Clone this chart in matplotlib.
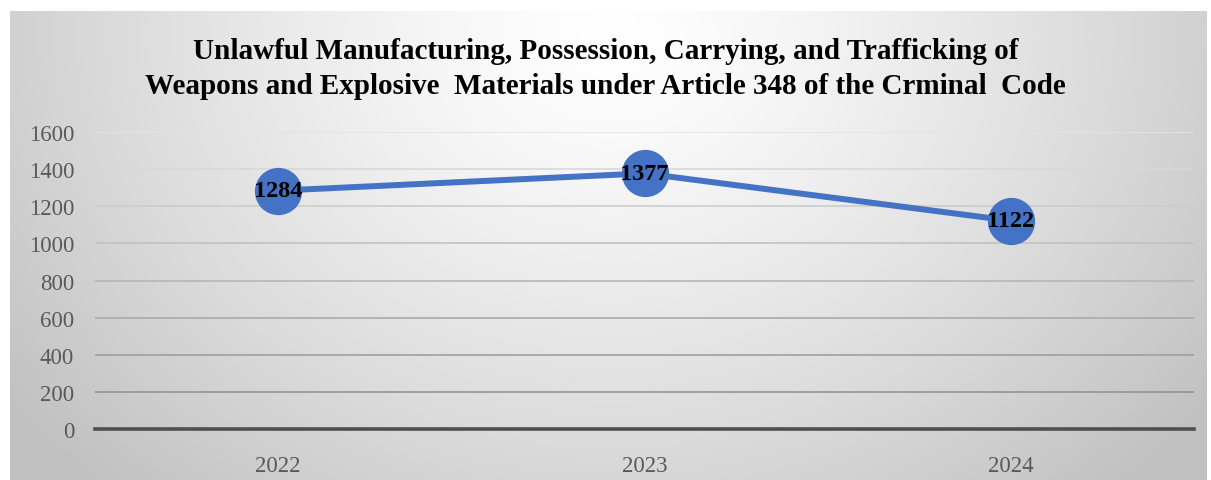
import numpy as np
import matplotlib.pyplot as plt

years = ["2022", "2023", "2024"]
values = [1284, 1377, 1122]
yticks = [0, 200, 400, 600, 800, 1000, 1200, 1400, 1600]
title = ("Unlawful Manufacturing, Possession, Carrying, and Trafficking of\n"
         "Weapons and Explosive  Materials under Article 348 of the Crminal  Code")

W, H = 1211, 481
fig = plt.figure(figsize=(W / 100, H / 100), dpi=100)
fig.patch.set_facecolor("white")

# background panel with radial gradient
bx0, by0, bx1, by1 = 10, 12, 1207, 481
bg = fig.add_axes([bx0 / W, 1 - by1 / H, (bx1 - bx0) / W, (by1 - by0) / H])
bg.set_axis_off()
ny, nx = 200, 500
yy, xx = np.mgrid[0:ny, 0:nx]
cx, cy = nx * 0.5, ny * 0.05
d = np.sqrt(((xx - cx) / (nx * 0.62)) ** 2 + ((yy - cy) / (ny * 1.3)) ** 2)
d = np.clip(d, 0, 1)
val = 1.0 - 0.24 * d ** 1.3
img = np.dstack([val, val, val])
bg.imshow(img, aspect="auto", extent=[0, 1, 0, 1], interpolation="bicubic")
bg.set_xlim(0, 1)
bg.set_ylim(0, 1)

# plot axes
px0, px1 = 95, 1194
py_top, py_bot = 133, 430
ax = fig.add_axes([px0 / W, 1 - py_bot / H, (px1 - px0) / W, (py_bot - py_top) / H])
ax.set_facecolor("none")
x = np.arange(len(years))
ax.set_xlim(-0.5, len(years) - 0.5)
ax.set_ylim(0, 1600)
ax.set_yticks(yticks)
ax.set_xticks(x)
ax.set_xticklabels(years)
for s in ax.spines.values():
    s.set_visible(False)
grid_n = len(yticks) - 1
for i, t in enumerate(yticks[1:]):
    frac = i / (grid_n - 1)  # 0 at bottom gridline, 1 at top
    g = 0.58 + (0.89 - 0.58) * frac
    ax.axhline(t, color=(g, g, g), lw=1.2, zorder=1)
ax.axhline(0, color="#4f4f4f", lw=2.6, zorder=2, clip_on=False)
ax.tick_params(axis="both", length=0, labelcolor="#595959", labelsize=16.5)
ax.tick_params(axis="y", pad=15)
ax.tick_params(axis="x", pad=19)
for lab in ax.get_xticklabels() + ax.get_yticklabels():
    lab.set_fontfamily("Liberation Serif")

ax.plot(x, values, color="#4472C4", lw=4.3, marker="o", markersize=33,
        markerfacecolor="#4472C4", markeredgecolor="#4472C4", zorder=3,
        solid_capstyle="round")
for xi, v in zip(x, values):
    ax.text(xi, v, str(v), ha="center", va="center", fontsize=17.5,
            fontweight="bold", family="Liberation Serif", color="black", zorder=4)

fig.text(0.5, 1 - 69 / H, title, ha="center", va="center", fontsize=21,
         fontweight="bold", family="Liberation Serif", color="black",
         linespacing=1.35)

fig.savefig("out.png", dpi=100)
